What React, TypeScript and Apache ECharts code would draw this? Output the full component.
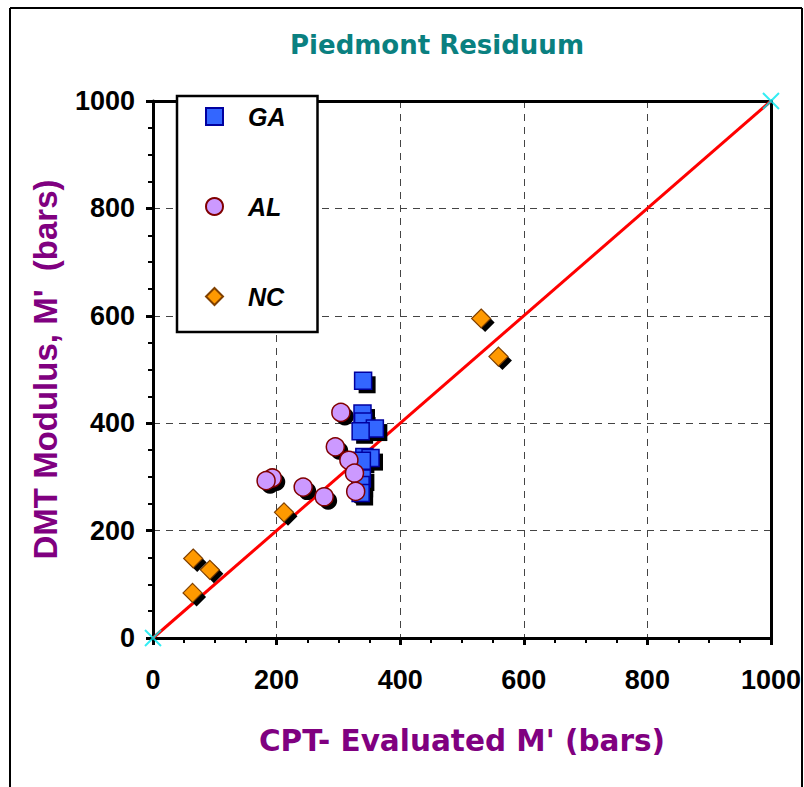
import React, { useEffect, useRef } from "react";
import * as echarts from "echarts";

const gaX = [340, 339, 340, 359, 336, 342, 352, 338, 338, 336, 336];
const gaY = [479, 418, 403, 390, 385, 337, 335, 330, 297, 285, 270];
const alX = [304, 295, 317, 326, 328, 277, 243, 193, 183];
const alY = [420, 356, 331, 307, 273, 263, 281, 298, 293];
const ncX = [531, 559, 212, 65, 92, 64];
const ncY = [595, 524, 234, 148, 127, 84];
const lineX = [0, 1000];
const lineY = [0, 1000];
const tickLabels = [0, 200, 400, 600, 800, 1000];

const zip = (xs: number[], ys: number[]) => xs.map((x, i) => [x, ys[i]]);

export default function App() {
  const ref = useRef<HTMLDivElement>(null);
  useEffect(() => {
    if (!ref.current) return;
    const chart = echarts.init(ref.current, undefined, { renderer: "svg" });
    const labelFont = {
      fontFamily: "Liberation Sans Narrow, Arial Narrow, Liberation Sans",
      fontWeight: "bold" as const,
      fontSize: 27,
      color: "#000",
      formatter: (v: number) => String(v),
    };
    const baseAxis = {
      type: "value" as const,
      min: tickLabels[0],
      max: tickLabels[tickLabels.length - 1],
      interval: 200,
    };
    const series: any[] = [
      {
        type: "line",
        data: zip(lineX, lineY),
        symbol: "none",
        lineStyle: { color: "#ff0000", width: 3 },
        z: 2,
        silent: true,
      },
      {
        name: "GA-shadow",
        type: "scatter",
        data: zip(gaX, gaY),
        symbol: "rect",
        symbolSize: 17,
        symbolOffset: [4, 4],
        itemStyle: { color: "#000", opacity: 1 },
        z: 3,
        silent: true,
      },
      {
        name: "AL-shadow",
        type: "scatter",
        data: zip(alX, alY),
        symbol: "circle",
        symbolSize: 18,
        symbolOffset: [4, 4],
        itemStyle: { color: "#000", opacity: 1 },
        z: 3,
        silent: true,
      },
      {
        name: "NC-shadow",
        type: "scatter",
        data: zip(ncX, ncY),
        symbol: "diamond",
        symbolSize: 19,
        symbolOffset: [4, 4],
        itemStyle: { color: "#000", opacity: 1 },
        z: 3,
        silent: true,
      },
      {
        name: "GA",
        type: "scatter",
        data: zip(gaX, gaY),
        symbol: "rect",
        symbolSize: 17,
        itemStyle: { color: "#3366ff", borderColor: "#0000a0", borderWidth: 1.5, opacity: 1 },
        z: 4,
      },
      {
        name: "AL",
        type: "scatter",
        data: zip(alX, alY),
        symbol: "circle",
        symbolSize: 18,
        itemStyle: { color: "#cc99ff", borderColor: "#800000", borderWidth: 1.5, opacity: 1 },
        z: 4,
      },
      {
        name: "NC",
        type: "scatter",
        data: zip(ncX, ncY),
        symbol: "diamond",
        symbolSize: 19,
        itemStyle: { color: "#ff9900", borderColor: "#804000", borderWidth: 1.2, opacity: 1 },
        z: 4,
      },
      {
        type: "scatter",
        data: zip(lineX, lineY),
        symbol: "path://M0,0L10,10M10,0L0,10",
        symbolSize: 16,
        itemStyle: { color: "none", borderColor: "#00e8f0", borderWidth: 2 },
        clip: false,
        z: 5,
        silent: true,
      },
    ];
    chart.setOption({
      animation: false,
      backgroundColor: "#fff",
      title: {
        text: "Piedmont Residuum",
        left: 432,
        top: 27,
        textAlign: "center",
        textStyle: { fontFamily: "DejaVu Sans", fontWeight: "bold", fontSize: 26, color: "#0a8080" },
      },
      legend: {
        data: ["GA", "AL", "NC"],
        orient: "vertical",
        left: 177,
        top: 96,
        padding: [8, 32, 23, 28],
        itemGap: 65,
        itemWidth: 17,
        itemHeight: 17,
        backgroundColor: "#fff",
        borderColor: "#000",
        borderWidth: 2.5,
        textStyle: {
          fontFamily: "Liberation Sans, Arial",
          fontWeight: "bold",
          fontStyle: "italic",
          fontSize: 25,
          color: "#000",
          padding: [0, 0, 0, 20],
        },
        z: 10,
      },
      grid: { left: 153, right: 30.5, top: 101, bottom: 149 },
      xAxis: [
        {
          ...baseAxis,
          position: "bottom",
          name: "CPT- Evaluated M' (bars)",
          nameLocation: "middle",
          nameGap: 88,
          nameTextStyle: { fontFamily: "DejaVu Sans", fontWeight: "bold", fontSize: 29.5, color: "#800080" },
          axisLine: { show: true, onZero: false, lineStyle: { color: "#000", width: 3 } },
          axisTick: { show: true, length: 7, lineStyle: { color: "#000", width: 3 } },
          minorTick: { show: true, splitNumber: 4, length: 5, lineStyle: { color: "#000", width: 2 } },
          axisLabel: { ...labelFont, margin: 28 },
          splitLine: { show: true, lineStyle: { color: "#444", type: [7, 6], width: 1 } },
        },
        {
          ...baseAxis,
          position: "top",
          axisLine: { show: true, onZero: false, lineStyle: { color: "#000", width: 3 } },
          axisTick: { show: false },
          axisLabel: { show: false },
          splitLine: { show: false },
        },
      ],
      yAxis: [
        {
          ...baseAxis,
          position: "left",
          name: "DMT Modulus, M'  (bars)",
          nameLocation: "middle",
          nameGap: 91,
          nameTextStyle: { fontFamily: "Liberation Sans, Arial", fontWeight: "bold", fontSize: 33, color: "#800080" },
          axisLine: { show: true, onZero: false, lineStyle: { color: "#000", width: 3 } },
          axisTick: { show: true, length: 7, lineStyle: { color: "#000", width: 3 } },
          minorTick: { show: true, splitNumber: 4, length: 5, lineStyle: { color: "#000", width: 2 } },
          axisLabel: { ...labelFont, margin: 18 },
          splitLine: { show: true, lineStyle: { color: "#444", type: [7, 6], width: 1 } },
        },
        {
          ...baseAxis,
          position: "right",
          axisLine: { show: true, onZero: false, lineStyle: { color: "#000", width: 3 } },
          axisTick: { show: false },
          axisLabel: { show: false },
          splitLine: { show: false },
        },
      ],
      graphic: [
        { type: "line", shape: { x1: 10, y1: 8, x2: 10, y2: 787 }, style: { stroke: "#000", lineWidth: 2 } },
        { type: "line", shape: { x1: 10, y1: 8, x2: 802, y2: 8 }, style: { stroke: "#000", lineWidth: 2 } },
        { type: "line", shape: { x1: 802, y1: 8, x2: 802, y2: 787 }, style: { stroke: "#000", lineWidth: 2 } },
      ],
      series,
    });
    return () => chart.dispose();
  }, []);
  return <div ref={ref} style={{ width: 804, height: 787, position: "absolute", left: 0, top: 0 }} />;
}
